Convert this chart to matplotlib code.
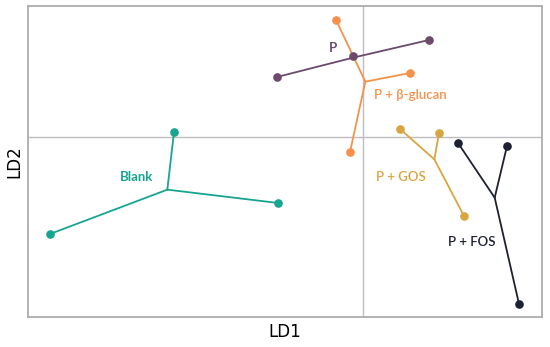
import matplotlib
matplotlib.use('Agg')
import matplotlib.pyplot as plt
import numpy as np

# LDA scores (LD1, LD2) for each group
BLANK_LD1 = [-3.78, -6.26, -1.70]
BLANK_LD2 = [0.10, -1.94, -1.32]
P_LD1 = [-1.72, 1.32, -0.20]
P_LD2 = [1.20, 1.94, 1.62]
GLUCAN_LD1 = [-0.54, 0.94, -0.26]
GLUCAN_LD2 = [2.34, 1.28, -0.30]
GOS_LD1 = [0.74, 1.52, 2.02]
GOS_LD2 = [0.16, 0.08, -1.58]
FOS_LD1 = [1.90, 2.88, 3.12]
FOS_LD2 = [-0.12, -0.18, -3.34]

GROUP_NAMES = ['Blank', 'P', 'P + \u03b2-glucan', 'P + GOS', 'P + FOS']
GROUP_COLORS = ['#17A592', '#6B4A6C', '#F6914B', '#D9A540', '#1E2132']
LABEL_POS = [(-4.52, -0.80), (-0.60, 1.78), (0.94, 0.84), (0.76, -0.80), (2.18, -2.10)]
LABEL_WEIGHT = ['bold', 'bold', 'semibold', 'semibold', 'semibold']


def main():
    groups = [(BLANK_LD1, BLANK_LD2), (P_LD1, P_LD2), (GLUCAN_LD1, GLUCAN_LD2),
              (GOS_LD1, GOS_LD2), (FOS_LD1, FOS_LD2)]

    fig = plt.figure(figsize=(5.5, 3.47), dpi=100)
    ax = fig.add_axes([0.0509, 0.0865, 0.9346, 0.8962])

    ax.axhline(0, color='#BDBDBD', lw=1.0, zorder=1)
    ax.axvline(0, color='#BDBDBD', lw=1.0, zorder=1)

    for (xs, ys), name, color, pos, weight in zip(groups, GROUP_NAMES, GROUP_COLORS,
                                                 LABEL_POS, LABEL_WEIGHT):
        xs = np.asarray(xs)
        ys = np.asarray(ys)
        cx, cy = xs.mean(), ys.mean()
        for x, y in zip(xs, ys):
            ax.plot([cx, x], [cy, y], color=color, lw=1.3, zorder=2,
                    solid_capstyle='round')
        ax.plot(xs, ys, 'o', color=color, ms=5.2, zorder=3)
        ax.text(pos[0], pos[1], name, color=color, family='Lato', weight=weight,
                fontsize=9.5, ha='center', va='center')

    ax.set_xlim(-6.70, 3.58)
    ax.set_ylim(-3.60, 2.62)
    ax.set_xticks([])
    ax.set_yticks([])
    for s in ax.spines.values():
        s.set_color('#ADADAD')
        s.set_linewidth(1.3)

    ax.set_xlabel('LD1', fontsize=12, labelpad=4)
    ax.set_ylabel('LD2', fontsize=12, labelpad=3)

    fig.savefig('out.png', dpi=100)


if __name__ == '__main__':
    main()
